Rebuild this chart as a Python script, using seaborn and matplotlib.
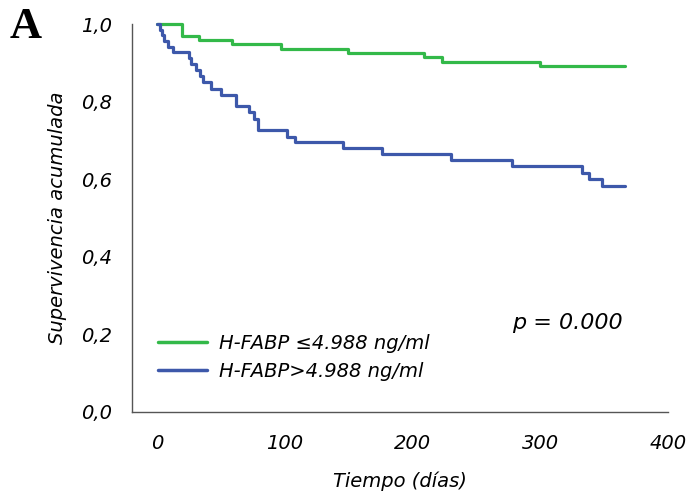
import matplotlib
matplotlib.use("Agg")
import matplotlib.pyplot as plt
from matplotlib.lines import Line2D
import numpy as np
import pandas as pd
import seaborn as sns

# Kaplan-Meier step points (time in days, cumulative survival)
low_times = [0, 19, 33, 58.6, 97.3, 149.5, 209, 223, 299.7, 366]
low_surv = [1.0, 0.970, 0.959, 0.948, 0.936, 0.925, 0.914, 0.903, 0.892, 0.892]

high_times = [0, 2, 4, 5.5, 8.5, 12.4, 24.9, 26.7, 30.7, 33.3, 36, 42.4, 50.2,
              61.3, 71.6, 75.8, 78.9, 101.6, 107.6, 145.5, 176, 229.7, 277.8,
              332.8, 338, 348.2, 366]
high_surv = [1.0, 0.985, 0.971, 0.957, 0.942, 0.927, 0.912, 0.896, 0.881, 0.866,
             0.850, 0.833, 0.818, 0.788, 0.772, 0.756, 0.726, 0.710, 0.695,
             0.680, 0.664, 0.649, 0.633, 0.617, 0.601, 0.582, 0.582]

group_labels = ["H-FABP \u22644.988 ng/ml", "H-FABP>4.988 ng/ml"]
group_colors = ["#33b949", "#3d58aa"]

x_ticks = [0, 100, 200, 300, 400]
y_ticks = [0.0, 0.2, 0.4, 0.6, 0.8, 1.0]
y_tick_labels = ["0,0", "0,2", "0,4", "0,6", "0,8", "1,0"]
p_text = "p = 0.000"

df = pd.concat([
    pd.DataFrame({"t": low_times, "s": low_surv, "g": group_labels[0]}),
    pd.DataFrame({"t": high_times, "s": high_surv, "g": group_labels[1]}),
], ignore_index=True)

sns.set_style("white")
plt.rcParams["font.family"] = ["DejaVu Sans"]
plt.rcParams["text.color"] = "black"
plt.rcParams["axes.labelcolor"] = "black"

fig = plt.figure(figsize=(6.94, 4.95), dpi=100)
ax = fig.add_axes([0.1898, 0.1677, 0.9625 - 0.1898, 0.9515 - 0.1677])

sns.lineplot(data=df, x="t", y="s", hue="g", palette=group_colors,
             estimator=None, sort=False, drawstyle="steps-post",
             linewidth=2.3, legend=False, clip_on=False, ax=ax)

ax.set_xlim(-20, 400)
ax.set_ylim(0, 1.0)
ax.set_xticks(x_ticks)
ax.set_xticklabels([str(v) for v in x_ticks])
ax.set_yticks(y_ticks)
ax.set_yticklabels(y_tick_labels)

for lab in ax.get_xticklabels() + ax.get_yticklabels():
    lab.set_fontstyle("italic")
    lab.set_fontsize(14)
    lab.set_color("black")

ax.tick_params(axis="both", direction="out", length=5, width=1, color="#555555")
ax.tick_params(axis="y", pad=9)
ax.tick_params(axis="x", pad=11)

sns.despine(ax=ax)
for side in ["left", "bottom"]:
    ax.spines[side].set_color("#555555")
    ax.spines[side].set_linewidth(1)

ax.set_xlabel("Tiempo (días)", fontsize=14, fontstyle="italic", labelpad=13)
ax.set_ylabel("Supervivencia acumulada", fontsize=14, fontstyle="italic",
              labelpad=10)

handles = [Line2D([0], [0], color=c, lw=2.5) for c in group_colors]
leg = ax.legend(handles, group_labels, loc="lower left",
                bbox_to_anchor=(0.035, 0.06), frameon=False,
                prop={"size": 14, "style": "italic"},
                handlelength=2.5, handletextpad=0.6, labelspacing=0.45,
                borderaxespad=0)
for t in leg.get_texts():
    t.set_color("black")

ax.text(0.916, 0.229, p_text, transform=ax.transAxes, ha="right", va="center",
        fontsize=16, fontstyle="italic", color="black")

fig.text(0.014, 0.946, "A", fontsize=32, fontweight="bold",
         family="Liberation Serif", va="center", ha="left", color="black")

fig.savefig("out.png", dpi=100)
